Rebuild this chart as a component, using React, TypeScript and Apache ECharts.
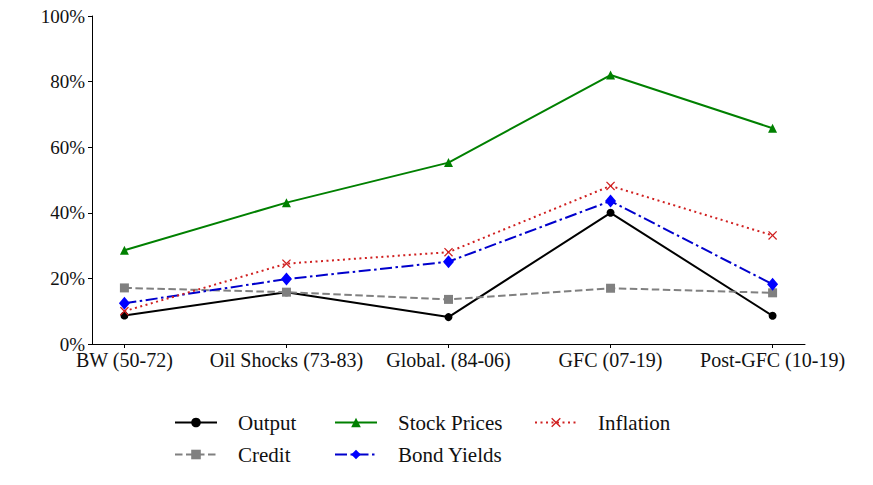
import React, { useEffect, useRef } from "react";
import * as echarts from "echarts";

const categories = ["BW (50-72)", "Oil Shocks (73-83)", "Global. (84-06)", "GFC (07-19)", "Post-GFC (10-19)"];
const outputVals = [8.7, 15.8, 8.2, 40.0, 8.6];
const creditVals = [17.1, 15.8, 13.6, 17.0, 15.6];
const stockVals = [28.6, 43.1, 55.3, 82.0, 65.8];
const bondVals = [12.4, 19.8, 25.1, 43.6, 18.2];
const inflationVals = [10.0, 24.5, 28.0, 48.2, 33.1];
const yTicks = [0, 20, 40, 60, 80, 100];

const FONT = "Liberation Serif";
const CROSS = "path://M0,1 L1,0 L5,4 L9,0 L10,1 L6,5 L10,9 L9,10 L5,6 L1,10 L0,9 L4,5 Z";

function pts(vals: number[]) {
  return vals.map((v, i) => [i, v]);
}

export default function App() {
  const ref = useRef<HTMLDivElement>(null);
  useEffect(() => {
    if (!ref.current) return;
    const chart = echarts.init(ref.current, undefined, { renderer: "svg" });
    const idx = categories.map((_, i) => i);
    const legendBase = {
      orient: "vertical" as const,
      top: 412,
      padding: 0,
      itemWidth: 42,
      itemHeight: 12,
      itemGap: 11,
      textStyle: { fontFamily: FONT, fontSize: 21, color: "#111", padding: [0, 0, 0, 16] },
    };
    chart.setOption({
      animation: false,
      backgroundColor: "#fff",
      grid: { left: 92, right: 68, top: 16, bottom: 141, containLabel: false, outerBoundsMode: "none" },
      xAxis: {
        type: "value",
        min: -0.2,
        max: 4.2,
        splitLine: { show: false },
        axisLine: { show: true, onZero: false, lineStyle: { color: "#000", width: 1 } },
        axisTick: { show: true, customValues: idx, length: 4, lineStyle: { color: "#000" } },
        axisLabel: {
          customValues: idx,
          formatter: (v: number) => categories[Math.round(v)],
          fontFamily: FONT,
          fontSize: 20,
          color: "#111",
          margin: 6,
        },
      },
      yAxis: {
        type: "value",
        min: yTicks[0],
        max: yTicks[yTicks.length - 1],
        interval: 20,
        splitLine: { show: false },
        axisLine: { show: true, onZero: false, lineStyle: { color: "#000", width: 1 } },
        axisTick: { show: true, length: 4, lineStyle: { color: "#000" } },
        axisLabel: {
          formatter: "{value}%",
          fontFamily: FONT,
          fontSize: 19,
          color: "#111",
          margin: 7,
        },
      },
      legend: [
        { ...legendBase, left: 174, data: ["Output", "Credit"] },
        { ...legendBase, left: 334, data: ["Stock Prices", "Bond Yields"] },
        { ...legendBase, left: 534, data: ["Inflation"] },
      ],
      series: [
        {
          name: "Output",
          type: "line",
          data: pts(outputVals),
          color: "#000",
          symbol: "circle",
          symbolSize: 8,
          lineStyle: { width: 2, color: "#000" },
        },
        {
          name: "Credit",
          type: "line",
          data: pts(creditVals),
          color: "#808080",
          symbol: "rect",
          symbolSize: 9,
          lineStyle: { width: 2, color: "#808080", type: [7.5, 3.5] },
        },
        {
          name: "Stock Prices",
          type: "line",
          data: pts(stockVals),
          color: "#008000",
          symbol: "triangle",
          symbolSize: 9,
          lineStyle: { width: 2, color: "#008000" },
        },
        {
          name: "Bond Yields",
          type: "line",
          data: pts(bondVals),
          color: "#0000ff",
          symbol: "diamond",
          symbolSize: [11, 13],
          lineStyle: { width: 2, color: "#0000cc", type: [12, 3.5, 2.5, 3.5] },
        },
        {
          name: "Inflation",
          type: "line",
          data: pts(inflationVals),
          color: "#d02020",
          symbol: CROSS,
          symbolSize: 9,
          lineStyle: { width: 2, color: "#d02020", type: [2, 3.5] },
        },
      ],
    });
    return () => chart.dispose();
  }, []);
  return (
    <div
      ref={ref}
      style={{ position: "fixed", left: 0, top: 0, width: 873, height: 485, background: "#fff" }}
    />
  );
}
